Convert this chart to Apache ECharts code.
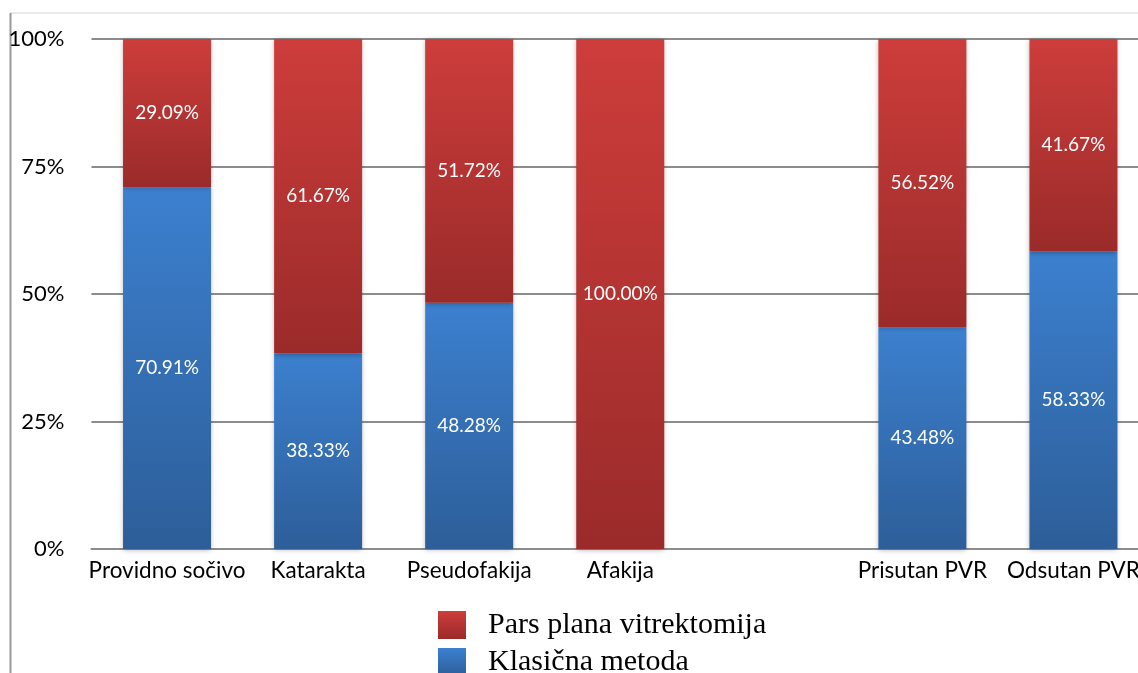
<!DOCTYPE html>
<html><head><meta charset="utf-8">
<script src="https://cdn.jsdelivr.net/npm/echarts@6/dist/echarts.min.js"></script>
<style>html,body{margin:0;padding:0;background:#fff}#c{width:1138px;height:673px}</style>
</head><body><div id="c"></div>
<script>
var categories = ['Providno sočivo','Katarakta','Pseudofakija','Afakija','','Prisutan PVR','Odsutan PVR'];
var klasicna = [70.91, 38.33, 48.28, 0, null, 43.48, 58.33];
var ppv = [29.09, 61.67, 51.72, 100, null, 56.52, 41.67];
var yTicks = [0, 25, 50, 75, 100];

function grad(top, bottom){
  return new echarts.graphic.LinearGradient(0,0,0,1,[{offset:0,color:top},{offset:1,color:bottom}]);
}
var redG = grad('#CD3D3B','#9A2B2A');
var blueG = grad('#3C80CF','#2D5E99');
var sans = 'Lato, "Open Sans", sans-serif';
var lbl = {show:true, position:'inside', color:'#fff', fontFamily:sans, fontSize:19,
  formatter:function(p){ return (p.value===null||p.value===0)?'':p.value.toFixed(2)+'%'; }};
var legText = {fontFamily:'"Liberation Serif", serif', fontSize:30, color:'#000', padding:[3,0,0,17]};
var chart = echarts.init(document.getElementById('c'));
chart.setOption({
  animation:false,
  grid:{left:91.5, top:39, width:1057.5, height:510, containLabel:false, outerBoundsMode:'none'},
  graphic:[
    {type:'line', shape:{x1:10,y1:13,x2:1138,y2:13}, style:{stroke:'#e3e3e3', lineWidth:1.5}},
    {type:'line', shape:{x1:10.5,y1:13,x2:10.5,y2:673}, style:{stroke:'#999', lineWidth:2}}
  ],
  xAxis:{type:'category', data:categories,
    axisLine:{show:true, lineStyle:{color:'#8c8c8c', width:2}},
    axisTick:{show:false},
    axisLabel:{color:'#000', fontSize:22.5, fontFamily:sans, margin:10, interval:0}},
  yAxis:{type:'value', min:0, max:100, interval:25,
    axisLine:{show:false}, axisTick:{show:false},
    splitLine:{lineStyle:{color:'#8c8c8c', width:2}},
    axisLabel:{color:'#000', fontSize:22, fontFamily:sans, margin:27,
      formatter:function(v){ return yTicks.indexOf(v)>=0 ? v+'%' : ''; }}},
  legend:[
    {orient:'vertical', left:438, top:610, itemWidth:28, itemHeight:28, icon:'rect', padding:0,
      data:['Pars plana vitrektomija'], textStyle:legText},
    {orient:'vertical', left:438, top:647, itemWidth:28, itemHeight:28, icon:'rect', padding:0,
      data:['Klasična metoda'], textStyle:legText}
  ],
  series:[
    {name:'Klasična metoda', type:'bar', stack:'s', data:klasicna, barWidth:88,
      itemStyle:{color:blueG, shadowBlur:5, shadowColor:'rgba(0,0,0,0.3)', shadowOffsetY:1}, label:lbl},
    {name:'Pars plana vitrektomija', type:'bar', stack:'s', data:ppv, barWidth:88,
      itemStyle:{color:redG, shadowBlur:5, shadowColor:'rgba(0,0,0,0.3)', shadowOffsetY:1}, label:lbl}
  ]
});
</script></body></html>
